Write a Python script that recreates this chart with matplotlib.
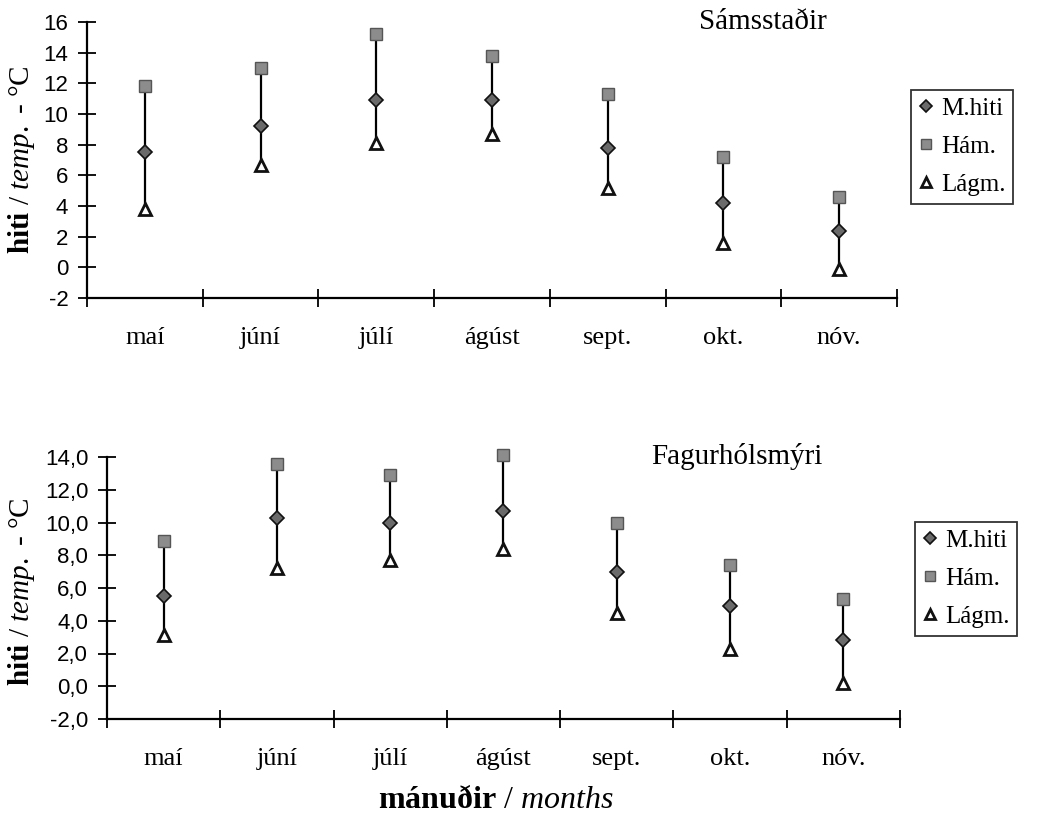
import matplotlib
matplotlib.use("Agg")
import matplotlib.pyplot as plt
from matplotlib.lines import Line2D
import numpy as np

# ---- data ----
months = ['maí', 'júní', 'júlí', 'ágúst', 'sept.', 'okt.', 'nóv.']

sams_mean = [7.5, 9.2, 10.9, 10.9, 7.8, 4.2, 2.4]
sams_max = [11.8, 13.0, 15.2, 13.8, 11.3, 7.2, 4.6]
sams_min = [3.8, 6.7, 8.1, 8.7, 5.2, 1.6, -0.1]

fag_mean = [5.5, 10.3, 10.0, 10.7, 7.0, 4.9, 2.8]
fag_max = [8.9, 13.6, 12.9, 14.1, 10.0, 7.4, 5.3]
fag_min = [3.1, 7.2, 7.7, 8.4, 4.5, 2.3, 0.2]

sams_yticks = [-2, 0, 2, 4, 6, 8, 10, 12, 14, 16]
sams_yticklabels = ['-2', '0', '2', '4', '6', '8', '10', '12', '14', '16']
fag_yticks = [-2, 0, 2, 4, 6, 8, 10, 12, 14]
fag_yticklabels = ['-2,0', '0,0', '2,0', '4,0', '6,0', '8,0', '10,0', '12,0', '14,0']

series_labels = ['M.hiti', 'Hám.', 'Lágm.']
titles = ['Sámsstaðir', 'Fagurhólsmýri']

# ---- style ----
plt.rcParams['mathtext.fontset'] = 'custom'
plt.rcParams['mathtext.rm'] = 'Liberation Serif'
plt.rcParams['mathtext.it'] = 'Liberation Serif:italic'
plt.rcParams['mathtext.bf'] = 'Liberation Serif:bold'
SERIF = 'Liberation Serif'
SANS = 'Liberation Sans'

fig = plt.figure(figsize=(10.4, 8.17), dpi=100)
fig.patch.set_facecolor('white')

W, H = 1040, 817
def axrect(l, r, t, b):
    return [l / W, 1 - b / H, (r - l) / W, (b - t) / H]

ax1 = fig.add_axes(axrect(87, 897, 22, 298))
ax2 = fig.add_axes(axrect(107, 900, 457, 719))

mean_kw = dict(marker='D', markersize=7.5, markerfacecolor='#6a6a6a',
               markeredgecolor='#111111', markeredgewidth=1.2, linestyle='none')
max_kw = dict(marker='s', markersize=9, markerfacecolor='#8c8c8c',
              markeredgecolor='#555555', markeredgewidth=1.0, linestyle='none')
min_kw = dict(marker='^', markersize=8.5, markerfacecolor='white',
              markeredgecolor='#111111', markeredgewidth=2.0, linestyle='none')


def panel(ax, mean, mx, mn, yticks, ylabels, ylim, title, title_xy, leg_xy, ylab_xy):
    x = np.arange(len(months))
    ax.vlines(x, mn, mx, color='black', linewidth=1.6, zorder=2)
    ax.plot(x, mx, zorder=3, clip_on=False, **max_kw)
    ax.plot(x, mean, zorder=4, clip_on=False, **mean_kw)
    ax.plot(x, mn, zorder=4, clip_on=False, **min_kw)

    ax.set_xlim(-0.5, len(months) - 0.5)
    ax.set_ylim(*ylim)
    for s in ['top', 'right']:
        ax.spines[s].set_visible(False)
    for s in ['left', 'bottom']:
        ax.spines[s].set_linewidth(1.6)

    ax.set_yticks(yticks)
    ax.set_yticklabels(ylabels, fontfamily=SANS, fontsize=16)
    ax.tick_params(axis='y', direction='inout', length=13, width=1.3, pad=7)

    ax.set_xticks(np.arange(len(months) + 1) - 0.5)
    ax.set_xticklabels([])
    ax.tick_params(axis='x', which='major', direction='inout', length=13, width=1.3)
    ax.set_xticks(x, minor=True)
    ax.set_xticklabels(months, minor=True, fontfamily=SERIF, fontsize=19)
    ax.tick_params(axis='x', which='minor', length=0, pad=21)

    fig.text(ylab_xy[0] / W, 1 - ylab_xy[1] / H,
             r'$\mathbf{hiti}$ / $\mathit{temp.}$ - °C', fontfamily=SERIF,
             fontsize=21, rotation=90, ha='center', va='center')

    fig.text(title_xy[0] / W, 1 - title_xy[1] / H, title, fontfamily=SERIF,
             fontsize=21, ha='center', va='center')

    handles = [Line2D([], [], **dict(mean_kw, markersize=6)),
               Line2D([], [], **dict(max_kw, markersize=7)),
               Line2D([], [], **dict(min_kw, markersize=6.5))]
    leg = fig.legend(handles, series_labels, loc='upper left',
                     bbox_to_anchor=(leg_xy[0] / W, 1 - leg_xy[1] / H),
                     prop={'family': SERIF, 'size': 18}, frameon=True,
                     fancybox=False, edgecolor='black', handlelength=0.6,
                     handletextpad=0.3, borderpad=0.3, labelspacing=0.62,
                     borderaxespad=0)
    leg.get_frame().set_linewidth(1.3)


panel(ax1, sams_mean, sams_max, sams_min, sams_yticks, sams_yticklabels,
      (-2, 16), titles[0], (763, 22), (911, 90), (22, 160))
panel(ax2, fag_mean, fag_max, fag_min, fag_yticks, fag_yticklabels,
      (-2, 14), titles[1], (737, 456), (915, 522), (22, 592))

fig.text(496 / W, 1 - 800 / H, r'$\mathbf{mánuðir}$ / $\mathit{months}$',
         fontfamily=SERIF, fontsize=23, ha='center', va='center')

fig.savefig('out.png', dpi=100, facecolor='white')
